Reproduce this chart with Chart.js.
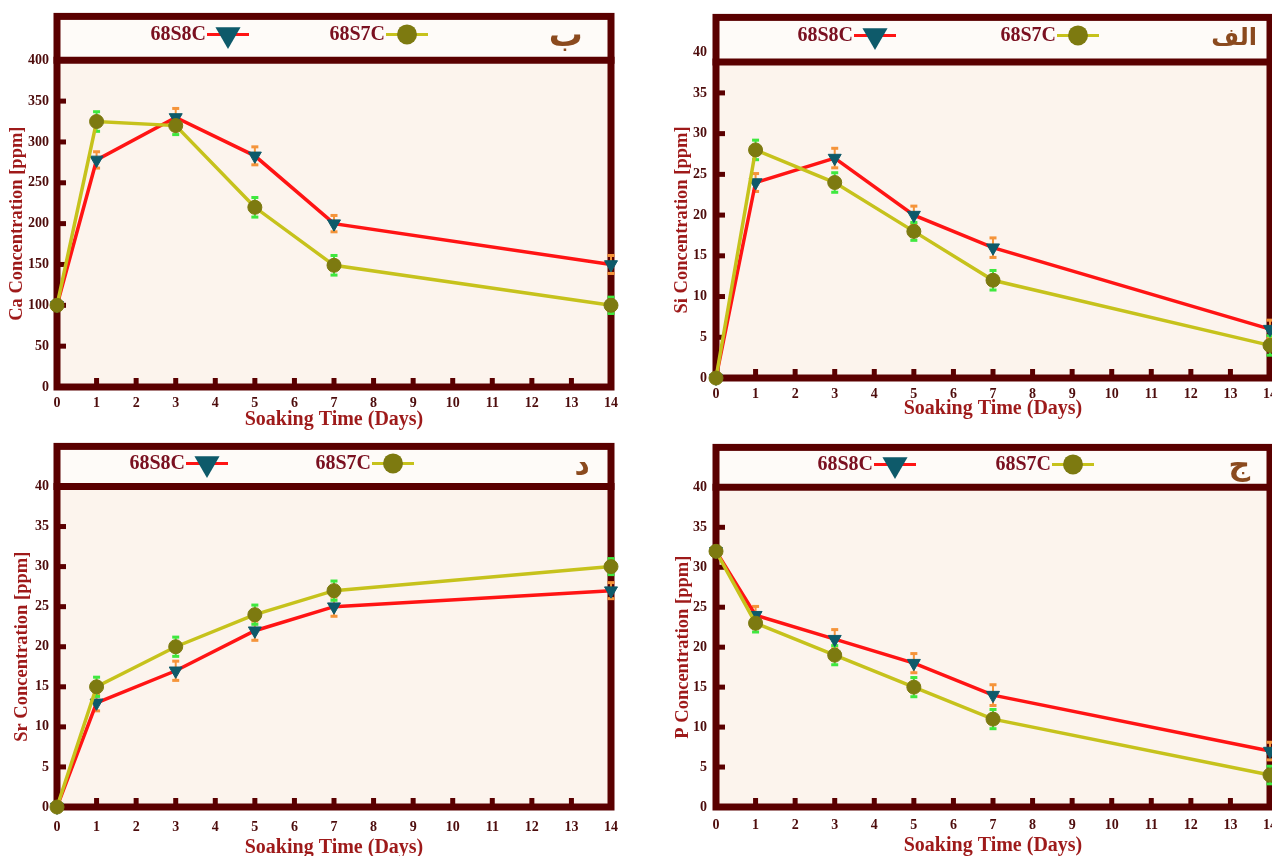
<!DOCTYPE html>
<html>
<head>
<meta charset="utf-8">
<script src="https://cdn.jsdelivr.net/npm/chart.js@4.4.1/dist/chart.umd.min.js"></script>
<style>
  html, body { margin: 0; padding: 0; background: #ffffff; overflow: hidden; }
  #wrap { position: relative; width: 1272px; height: 856px; overflow: hidden; }
  canvas { position: absolute; }
</style>
</head>
<body>
<div id="wrap">
  <canvas id="cCa" width="640" height="430" style="left:0px;top:0px"></canvas>
  <canvas id="cSi" width="640" height="430" style="left:660px;top:0px"></canvas>
  <canvas id="cSr" width="640" height="426" style="left:0px;top:430px"></canvas>
  <canvas id="cP"  width="640" height="426" style="left:660px;top:430px"></canvas>
</div>
<script>
// Soaking days at which the ion release was measured
const days = [0, 1, 3, 5, 7, 14];
const dayTicks = [0, 1, 2, 3, 4, 5, 6, 7, 8, 9, 10, 11, 12, 13, 14];
const seriesNames = ['68S8C', '68S7C'];

// Ca release [ppm]
const caS8C = [100, 278, 330, 283, 200, 150];
const caS7C = [100, 325, 320, 220, 149, 100];
const caS8CErr = [5, 10, 11, 11, 10, 11];
const caS7CErr = [5, 12, 11, 12, 12, 10];
const caTicks = [0, 50, 100, 150, 200, 250, 300, 350, 400];

// Si release [ppm]
const siS8C = [0, 24, 27, 20, 16, 6];
const siS7C = [0, 28, 24, 18, 12, 4];
const siS8CErr = [0.4, 1.1, 1.2, 1.1, 1.2, 1.1];
const siS7CErr = [0.4, 1.2, 1.2, 1.1, 1.2, 1.2];

// Sr release [ppm]
const srS8C = [0, 13, 17, 22, 25, 27];
const srS7C = [0, 15, 20, 24, 27, 30];
const srS8CErr = [0.4, 1.0, 1.2, 1.2, 1.2, 1.0];
const srS7CErr = [0.4, 1.2, 1.2, 1.2, 1.2, 1.0];

// P release [ppm]
const pS8C = [32, 24, 21, 18, 14, 7];
const pS7C = [32, 23, 19, 15, 11, 4];
const pS8CErr = [0.5, 1.1, 1.2, 1.2, 1.3, 1.1];
const pS7CErr = [0.5, 1.1, 1.2, 1.2, 1.2, 1.1];

const concTicks = [0, 5, 10, 15, 20, 25, 30, 35, 40];

// Colours
const FRAME = '#5a0000';
const TICK_TEXT = '#4d0c0c';
const TITLE_TEXT = '#9e1a1a';
const LEGEND_TEXT = '#7a1020';
const LETTER = '#8b4a1e';
const S8C_LINE = '#ff1414', S8C_MARK = '#0e5a6a', S8C_ERR = '#f5943a';
const S7C_LINE = '#c6c21c', S7C_MARK = '#7d7a10', S7C_ERR = '#3fe83f';

const panels = [
  { id: 'cCa', letter: 'ب', letterSize: 34, yTitle: 'Ca Concentration [ppm]', s8: caS8C, s7: caS7C, e8: caS8CErr, e7: caS7CErr,
    yTicks: caTicks, yMax: 453.7, sep: 400, pad: { top: 15, right: 29 }, yWidth: 57, xHeight: 43,
    xLabelPad: 8, yLabelPad: 8, xTitleDy: 33, yTitleDx: 40, legendDy: 18, legendX: [171, 350], letterDx: 28 },
  { id: 'cSi', letter: 'الف', letterSize: 24, yTitle: 'Si Concentration [ppm]', s8: siS8C, s7: siS7C, e8: siS8CErr, e7: siS7CErr,
    yTicks: concTicks, yMax: 44.27, sep: 38.8, pad: { top: 15, right: 30 }, yWidth: 56, xHeight: 52,
    xLabelPad: 8, yLabelPad: 9, xTitleDy: 31, yTitleDx: 34, legendDy: 18, legendX: [159, 362], letterDx: 13 },
  { id: 'cSr', letter: 'د', letterSize: 30, yTitle: 'Sr Concentration [ppm]', s8: srS8C, s7: srS7C, e8: srS8CErr, e7: srS7CErr,
    yTicks: concTicks, yMax: 45.0, sep: 40, pad: { top: 8, right: 29 }, yWidth: 57, xHeight: 49,
    xLabelPad: 12, yLabelPad: 8, xTitleDy: 41, yTitleDx: 35, legendDy: 17, legendX: [150, 336], letterDx: 21 },
  { id: 'cP', letter: 'ج', letterSize: 30, yTitle: 'P Concentration [ppm]', s8: pS8C, s7: pS7C, e8: pS8CErr, e7: pS7CErr,
    yTicks: concTicks, yMax: 45.0, sep: 40, pad: { top: 8, right: 30 }, yWidth: 56, xHeight: 49,
    xLabelPad: 10, yLabelPad: 9, xTitleDy: 39, yTitleDx: 33, legendDy: 17, legendX: [179, 357], letterDx: 20 }
];

function triangleDown(ctx, cx, cy, r) {
  ctx.beginPath();
  ctx.moveTo(cx, cy + r);
  ctx.lineTo(cx - r * Math.sin(Math.PI / 3), cy - r / 2);
  ctx.lineTo(cx + r * Math.sin(Math.PI / 3), cy - r / 2);
  ctx.closePath();
  ctx.fill();
}

function makeDecor(p) {
  return {
    id: 'panelDecor',
    beforeDatasetsDraw(chart) {
      const ctx = chart.ctx;
      const x = chart.scales.x, y = chart.scales.y;
      const left = x.getPixelForValue(0), right = x.getPixelForValue(14);
      const bottom = y.getPixelForValue(0), top = chart.chartArea.top;
      const sepY = y.getPixelForValue(p.sep);
      ctx.save();

      // backgrounds: legend strip and plotting area
      ctx.fillStyle = '#fefbf8';
      ctx.fillRect(left, top, right - left, sepY - top);
      ctx.fillStyle = '#fcf4ed';
      ctx.fillRect(left, sepY, right - left, bottom - sepY);

      // inward tick marks
      ctx.fillStyle = FRAME;
      p.yTicks.forEach(v => {
        if (v < p.sep && v > 0) {
          const py = y.getPixelForValue(v);
          ctx.fillRect(left + 3, py - 2.5, 6, 5);
        }
      });
      dayTicks.forEach(v => {
        if (v > 0 && v < 14) {
          const px = x.getPixelForValue(v);
          ctx.fillRect(px - 2.5, bottom - 9, 5, 6);
        }
      });

      // frame and legend separator
      ctx.strokeStyle = FRAME;
      ctx.lineWidth = 7;
      ctx.strokeRect(left, top, right - left, bottom - top);
      ctx.beginPath();
      ctx.moveTo(left - 3.5, sepY);
      ctx.lineTo(right + 3.5, sepY);
      ctx.stroke();

      // legend
      const ly = top + p.legendDy;
      ctx.font = 'bold 20px "Liberation Serif", serif';
      ctx.textAlign = 'right';
      ctx.textBaseline = 'middle';
      const lineCols = [S8C_LINE, S7C_LINE];
      p.legendX.forEach((dx, i) => {
        const mx = left + dx;
        ctx.fillStyle = LEGEND_TEXT;
        ctx.fillText(seriesNames[i], mx - 22, ly);
        ctx.strokeStyle = lineCols[i];
        ctx.lineWidth = 3;
        ctx.beginPath();
        ctx.moveTo(mx - 21, ly);
        ctx.lineTo(mx + 21, ly);
        ctx.stroke();
        if (i === 0) {
          ctx.fillStyle = S8C_MARK;
          triangleDown(ctx, mx, ly, 14.5);
        } else {
          ctx.fillStyle = S7C_MARK;
          ctx.beginPath();
          ctx.arc(mx, ly, 10, 0, Math.PI * 2);
          ctx.fill();
        }
      });

      // panel letter
      ctx.font = 'bold ' + p.letterSize + 'px "DejaVu Sans", sans-serif';
      ctx.fillStyle = LETTER;
      ctx.textAlign = 'right';
      ctx.fillText(p.letter, right - p.letterDx, ly + 3);

      // axis titles
      ctx.fillStyle = TITLE_TEXT;
      ctx.textAlign = 'center';
      ctx.font = 'bold 20px "Liberation Serif", serif';
      ctx.fillText('Soaking Time (Days)', (left + right) / 2, bottom + p.xTitleDy);
      ctx.save();
      ctx.translate(left - p.yTitleDx, (sepY + bottom) / 2);
      ctx.rotate(-Math.PI / 2);
      ctx.font = 'bold 18.5px "Liberation Serif", serif';
      ctx.fillText(p.yTitle, 0, 0);
      ctx.restore();

      // error bars
      const sets = [[p.s8, p.e8, S8C_ERR], [p.s7, p.e7, S7C_ERR]];
      sets.forEach(([vals, errs, col]) => {
        ctx.strokeStyle = col;
        ctx.fillStyle = col;
        ctx.lineWidth = 2;
        vals.forEach((v, j) => {
          const px = x.getPixelForValue(days[j]);
          const yt = y.getPixelForValue(v + errs[j]);
          const yb = y.getPixelForValue(v - errs[j]);
          ctx.beginPath();
          ctx.moveTo(px, yt);
          ctx.lineTo(px, yb);
          ctx.stroke();
          ctx.fillRect(px - 3.5, yt - 1.5, 7, 3);
          ctx.fillRect(px - 3.5, yb - 1.5, 7, 3);
        });
      });

      ctx.restore();
    }
  };
}

panels.forEach(p => {
  const pts = vals => vals.map((v, i) => ({ x: days[i], y: v }));
  new Chart(document.getElementById(p.id), {
    type: 'line',
    data: {
      datasets: [
        {
          label: seriesNames[0], data: pts(p.s8), order: 1, clip: false,
          borderColor: S8C_LINE, borderWidth: 3.5, tension: 0,
          pointStyle: 'triangle', pointRotation: 180, pointRadius: 7.5,
          pointBackgroundColor: S8C_MARK, pointBorderColor: S8C_MARK, pointBorderWidth: 1
        },
        {
          label: seriesNames[1], data: pts(p.s7), order: 0, clip: false,
          borderColor: S7C_LINE, borderWidth: 3.5, tension: 0,
          pointStyle: 'circle', pointRadius: 7,
          pointBackgroundColor: S7C_MARK, pointBorderColor: S7C_MARK, pointBorderWidth: 1
        }
      ]
    },
    options: {
      responsive: false,
      animation: false,
      devicePixelRatio: 1,
      layout: { padding: { left: 0, top: p.pad.top, right: p.pad.right, bottom: 0 } },
      plugins: { legend: { display: false }, tooltip: { enabled: false } },
      scales: {
        x: {
          type: 'linear', min: 0, max: 14,
          grid: { display: false, drawTicks: false }, border: { display: false },
          afterBuildTicks: s => { s.ticks = dayTicks.map(v => ({ value: v })); },
          afterFit: s => { s.height = p.xHeight; },
          ticks: {
            autoSkip: false, maxRotation: 0, padding: p.xLabelPad, color: TICK_TEXT,
            font: { family: '"Liberation Serif", serif', weight: 'bold', size: 14 }
          }
        },
        y: {
          type: 'linear', min: 0, max: p.yMax,
          grid: { display: false, drawTicks: false }, border: { display: false },
          afterBuildTicks: s => { s.ticks = p.yTicks.map(v => ({ value: v })); },
          afterFit: s => { s.width = p.yWidth; },
          ticks: {
            padding: p.yLabelPad, color: TICK_TEXT,
            font: { family: '"Liberation Serif", serif', weight: 'bold', size: 14 }
          }
        }
      }
    },
    plugins: [makeDecor(p)]
  });
});
</script>
</body>
</html>
